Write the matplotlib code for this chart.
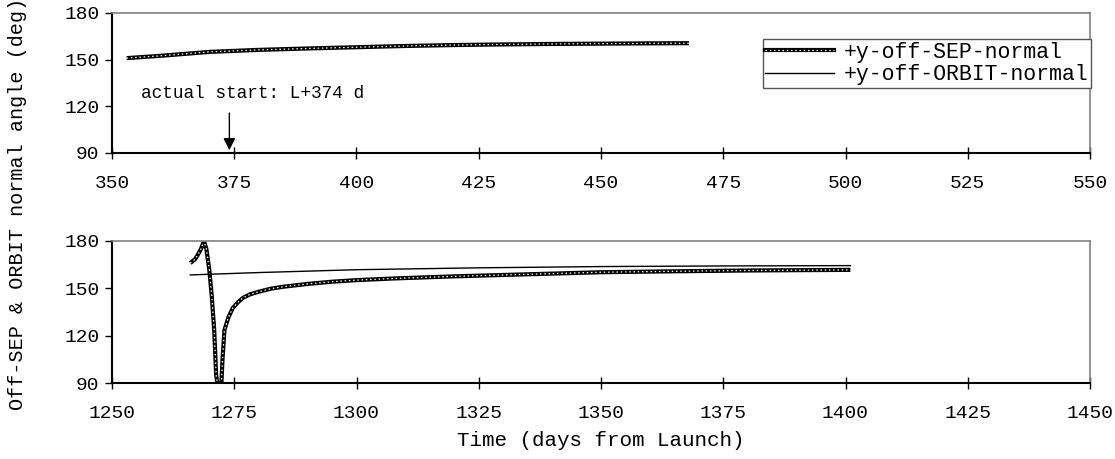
import matplotlib.pyplot as plt
from matplotlib.lines import Line2D

plt.rcParams['font.family'] = ['Liberation Mono', 'DejaVu Sans Mono']

# top panel: first flyby window
top_days = [353, 360, 370, 380, 390, 400, 410, 420, 430, 440, 450, 460, 468]
top_sep = [151.0, 152.5, 155.0, 156.3, 157.2, 158.0, 158.8, 159.4, 159.8,
           160.1, 160.3, 160.5, 160.6]

# bottom panel: second window
bot_sep_days = [1266, 1267, 1267.5, 1268.2, 1268.8, 1269.3, 1269.9, 1270.4,
                1270.9, 1271.3, 1271.8, 1272.3, 1272.6, 1273.0, 1273.8,
                1274.7, 1275.7, 1276.8, 1278.3, 1280.2, 1282.5, 1285, 1290,
                1295, 1300, 1308, 1320, 1335, 1350, 1365, 1380, 1390, 1401]
bot_sep = [166.0, 168.5, 171.0, 175.0, 180.0, 175.0, 161.6, 145.0, 123.6,
           95.0, 85.0, 85.0, 105.0, 123.6, 131.5, 137.5, 141.0, 144.0,
           146.3, 148.0, 149.8, 151.0, 152.8, 154.2, 155.2, 156.3, 157.6,
           158.9, 160.2, 160.8, 161.3, 161.5, 161.7]
bot_orbit_days = [1266, 1280, 1300, 1325, 1350, 1375, 1401]
bot_orbit = [158.5, 160.0, 161.8, 163.0, 163.8, 164.2, 164.4]

x_ticks_top = [350, 375, 400, 425, 450, 475, 500, 525, 550]
x_ticks_bot = [1250, 1275, 1300, 1325, 1350, 1375, 1400, 1425, 1450]
y_ticks = [90, 120, 150, 180]

fig = plt.figure(figsize=(11.15, 4.59), dpi=100)
ax1 = fig.add_axes([112 / 1115, 1 - 153 / 459, 978 / 1115, 140 / 459])
ax2 = fig.add_axes([112 / 1115, 1 - 383 / 459, 978 / 1115, 142 / 459])


def sep_line(ax, x, y):
    ax.plot(x, y, color='black', lw=3.0, solid_capstyle='butt', clip_on=True)
    ax.plot(x, y, color='white', lw=0.9, ls=(0, (1.2, 2.2)), clip_on=True)


sep_line(ax1, top_days, top_sep)
sep_line(ax2, bot_sep_days, bot_sep)
ax2.plot(bot_orbit_days, bot_orbit, color='black', lw=1.0)

for ax, xt in ((ax1, x_ticks_top), (ax2, x_ticks_bot)):
    ax.set_xlim(xt[0], xt[-1])
    ax.set_ylim(90, 180)
    ax.set_xticks(xt)
    ax.set_yticks(y_ticks)
    ax.tick_params(axis='x', direction='inout', length=9, width=1, labelsize=14, pad=11)
    ax.tick_params(axis='y', direction='out', length=5, width=1, labelsize=14, pad=4)
    ax.spines['left'].set_color('black')
    ax.spines['bottom'].set_color('black')
    ax.spines['left'].set_linewidth(1.5)
    ax.spines['bottom'].set_linewidth(1.5)
    for s in ('top', 'right'):
        ax.spines[s].set_color('#808080')
        ax.spines[s].set_linewidth(1.2)

ax1.annotate('', xy=(374, 90), xytext=(374, 117.5),
             arrowprops=dict(arrowstyle='-|>', color='black', lw=1,
                             mutation_scale=18), annotation_clip=False)
ax1.text(356, 128.5, 'actual start: L+374 d', fontsize=12.8, va='center', ha='left')

ax2.set_xlabel('Time (days from Launch)', fontsize=15, labelpad=7)
fig.text(18 / 1115, 1 - 204 / 459, 'Off-SEP & ORBIT normal angle (deg)',
         rotation=90, fontsize=14.5, ha='center', va='center')

sep_handle = (Line2D([], [], color='black', lw=3.0),
              Line2D([], [], color='white', lw=0.9, ls=(0, (1.2, 2.2))))
orbit_handle = Line2D([], [], color='black', lw=1.0)
leg = fig.legend([sep_handle, orbit_handle],
                 ['+y-off-SEP-normal', '+y-off-ORBIT-normal'],
                 loc='upper right', bbox_to_anchor=(1091 / 1115, 1 - 39 / 459),
                 fontsize=15.5, frameon=True, fancybox=False, framealpha=1,
                 edgecolor='#555555', handlelength=3.2, handletextpad=0.45,
                 borderpad=0.12, labelspacing=0.08, borderaxespad=0)
leg.get_frame().set_linewidth(1.0)

fig.savefig('out.png', dpi=100)
